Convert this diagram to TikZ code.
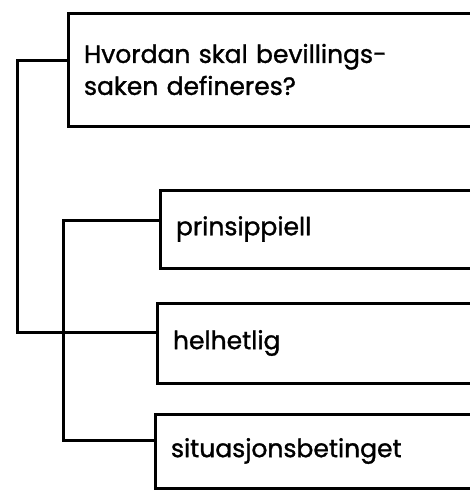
\documentclass[tikz,border=0pt]{standalone}
\usepackage{fontspec}
\setmainfont{Poppins}[FakeBold=1.2]
\newcommand\labelfont{\fontsize{25pt}{32pt}\selectfont}
\begin{document}
\begin{tikzpicture}[x=1pt, y=-1pt,
  box/.style={draw, line width=3pt, anchor=north west, outer sep=0pt,
    inner xsep=16pt, inner ysep=0pt, text width=386pt, align=left, font=\labelfont},
  conn/.style={draw, line width=3pt, line join=miter}]
  \useasboundingbox (0,0) rectangle (470,490);

  % question and the three answer boxes (open to the right)
  \node[box, minimum height=113pt] (q) at (68,13) {Hvordan skal bevillings-\\saken defineres?};
  \node[box, minimum height=78pt]  (p) at (160,190) {prinsippiell};
  \node[box, minimum height=80pt]  (h) at (157,303) {helhetlig};
  \node[box, minimum height=74pt]  (s) at (155,414) {situasjonsbetinget};

  % bracket lines joining the boxes
  \draw[conn] ([yshift=9.5pt]q.west) -- ++(-51,0) |- ([yshift=11pt]h.west);
  \draw[conn] ([yshift=9pt]p.west) -- ++(-97,0) |- ([yshift=11pt]s.west);
\end{tikzpicture}
\end{document}
